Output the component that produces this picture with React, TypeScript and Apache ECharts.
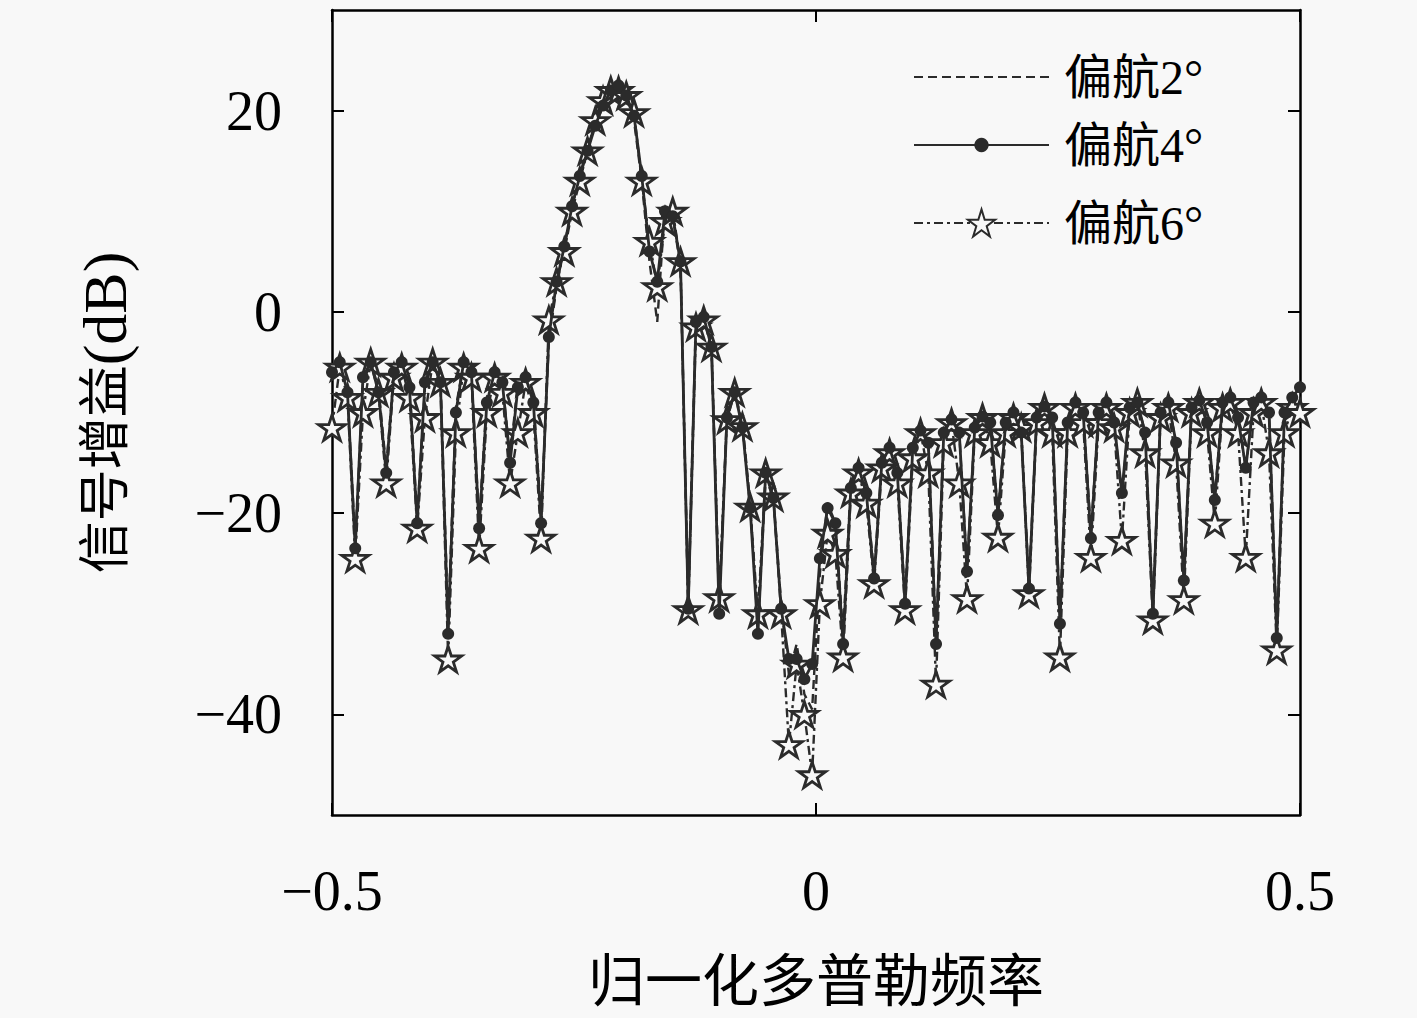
import React, { useEffect, useRef } from "react";
import * as echarts from "echarts";

const FREQ = [
  -0.5, -0.492, -0.484, -0.476, -0.468, -0.46, -0.452, -0.444, -0.436, -0.428,
  -0.42, -0.412, -0.404, -0.396, -0.388, -0.38, -0.372, -0.364, -0.356, -0.348,
  -0.34, -0.332, -0.324, -0.316, -0.308, -0.3, -0.292, -0.284, -0.276, -0.268,
  -0.26, -0.252, -0.244, -0.236, -0.228, -0.22, -0.212, -0.204, -0.196, -0.188,
  -0.18, -0.172, -0.164, -0.156, -0.148, -0.14, -0.132, -0.124, -0.116, -0.108,
  -0.1, -0.092, -0.084, -0.076, -0.068, -0.06, -0.052, -0.044, -0.036, -0.028,
  -0.02, -0.012, -0.004, 0.004, 0.012, 0.02, 0.028, 0.036, 0.044, 0.052,
  0.06, 0.068, 0.076, 0.084, 0.092, 0.1, 0.108, 0.116, 0.124, 0.132,
  0.14, 0.148, 0.156, 0.164, 0.172, 0.18, 0.188, 0.196, 0.204, 0.212,
  0.22, 0.228, 0.236, 0.244, 0.252, 0.26, 0.268, 0.276, 0.284, 0.292,
  0.3, 0.308, 0.316, 0.324, 0.332, 0.34, 0.348, 0.356, 0.364, 0.372,
  0.38, 0.388, 0.396, 0.404, 0.412, 0.42, 0.428, 0.436, 0.444, 0.452,
  0.46, 0.468, 0.476, 0.484, 0.492, 0.5,
];

const YAW2 = [
  -6.5, -5, -8, -23, -7, -5, -7.5, -15.5, -6, -5,
  -7, -20.5, -7.5, -5, -6.5, -31, -9.5, -5, -6, -21,
  -8.5, -6, -7, -14.5, -7, -6.5, -8.5, -20.5, -3, 2.5,
  6.5, 10.5, 13.5, 16.5, 18.5, 20.5, 22, 22.5, 21.5, 19,
  13, 5, -1, 10.5, 9.5, 4.5, -29, -0.5, -0.5, -3,
  -29.5, -10, -8, -11, -19, -31.5, -16.5, -18.5, -29, -36,
  -33, -38, -39.5, -26, -19, -21, -32, -17, -15.5, -18,
  -26, -15, -13.5, -16, -28.5, -13.5, -11.5, -13, -32.5, -12,
  -10.5, -12, -25.5, -11.5, -10.4, -11, -20, -11, -10, -12,
  -27, -10.5, -9.4, -10.5, -30.5, -11, -9, -10, -22, -10,
  -9, -11, -18.5, -9.5, -9, -12, -29.5, -10, -9, -13,
  -26.5, -9.5, -8.8, -11, -18.5, -9, -8.5, -10.5, -15.5, -9,
  -8.5, -10, -32, -10, -8.5, -7.5,
];

const YAW4 = [
  -6, -5, -8, -23.5, -6.5, -5, -8, -16, -6, -5,
  -7.5, -21, -7, -5, -7, -32, -10, -5, -6, -21.5,
  -9, -6, -7, -15, -7.5, -6.5, -9, -21, -2.5, 3,
  6.5, 10.5, 13.5, 16, 18.5, 20.5, 22, 22.5, 21.5, 19.5,
  13.5, 6, 3, 10, 9.5, 5, -29.5, -1, -0.5, -3.5,
  -30, -10.5, -8, -11.5, -19.5, -32, -16, -18.5, -29.5, -34.5,
  -34.5, -36.5, -35, -24.5, -19.5, -21, -33, -17.5, -15.5, -18,
  -26.5, -15, -13.5, -16, -29, -13.5, -11.8, -13, -33, -12,
  -10.7, -12, -25.8, -11.5, -10.4, -11, -20.2, -11, -10, -12,
  -27.5, -10.5, -9.4, -10.5, -31, -11, -9, -10, -22.5, -10,
  -9, -11, -18, -9.5, -9, -12, -30, -10, -9, -13,
  -26.7, -9.5, -8.8, -11, -18.7, -9, -8.5, -10.5, -15.5, -9,
  -8.5, -10, -32.4, -10, -8.5, -7.5,
];

const YAW6 = [
  -11.5, -5.5, -8.5, -24.5, -10, -5, -8, -17, -6.5, -5.5,
  -8.5, -21.5, -10.5, -5, -7, -34.5, -12, -5.5, -6.5, -23.5,
  -10, -6.5, -8, -17, -12, -7, -10, -22.5, -0.8, 3,
  6, 10, 13, 16, 19, 21, 22, 22, 21.5, 19.8,
  13, 7, 2.5, 9, 10, 5, -29.6, -1.5, -0.8, -3.5,
  -28.4, -10.7, -8, -11.4, -19.4, -30, -16, -18.4, -30, -43,
  -35, -40, -46, -29, -22, -24, -34.3, -18, -16, -19,
  -27, -15.5, -14, -17, -29.6, -14.5, -12, -16, -37, -13,
  -11, -17, -28.5, -12, -10.5, -13, -22.4, -12, -10.5, -11.5,
  -28, -11, -9.5, -12, -34.3, -12, -9.5, -11, -24.4, -11,
  -9.5, -11.5, -22.7, -10, -9, -14, -30.6, -10.5, -9.5, -15,
  -28.6, -10, -9, -12, -21, -9.5, -9, -12, -24.4, -10,
  -9, -14, -33.6, -12, -9.5, -10,
];

const SERIES_NAMES = ["偏航2°", "偏航4°", "偏航6°"];
const Y_TICKS = [-40, -20, 0, 20];
const X_NAME = "归一化多普勒频率";
const Y_NAME_CJK = "信号增益";
const Y_NAME_UNIT = "(dB)";

const STAR =
  "path://M50,2 L61.2,36.4 L97.6,36.4 L68.2,57.6 L79.4,92 L50,70.8 L20.6,92 L31.8,57.6 L2.4,36.4 L38.8,36.4 Z";

const INK = "#2b2b2b";
const BG = "#f8f8f8";
const NUM_FONT = "'Liberation Serif', 'Noto Sans CJK SC', serif";
const CJK_FONT = "'Liberation Serif', 'Noto Sans CJK SC', serif";

const fmt = (v: number) => (v < 0 ? "\u2212" + Math.abs(v) : String(v));

export default function App() {
  const ref = useRef<HTMLDivElement>(null);
  useEffect(() => {
    if (!ref.current) return;
    const chart = echarts.init(ref.current, null, { renderer: "svg" });
    const pairs = (ys: number[]) => FREQ.map((f, i) => [f, ys[i]]);
    const axisCommon = {
      axisLine: { show: true, onZero: false, lineStyle: { color: "#000", width: 2.5 } },
      splitLine: { show: false },
    };
    const legendText = {
      fontSize: 48,
      lineHeight: 48,
      fontFamily: CJK_FONT,
      color: "#000",
      padding: [0, 0, 0, 10],
    };
    chart.setOption({
      animation: false,
      backgroundColor: BG,
      grid: { left: 332, right: 117, top: 10, bottom: 203, containLabel: false },
      legend: [
        {
          data: [{ name: SERIES_NAMES[0], itemStyle: { opacity: 0 } }],
          left: 908,
          top: 48,
          itemWidth: 135,
          itemHeight: 20,
          textStyle: legendText,
        },
        {
          data: [SERIES_NAMES[1]],
          left: 908,
          top: 116,
          itemWidth: 135,
          itemHeight: 18,
          textStyle: legendText,
        },
        {
          data: [SERIES_NAMES[2]],
          left: 908,
          top: 194,
          itemWidth: 135,
          itemHeight: 34,
          textStyle: legendText,
        },
      ],
      xAxis: [
        {
          type: "value",
          min: -0.5,
          max: 0.5,
          interval: 0.5,
          position: "bottom",
          ...axisCommon,
          axisTick: { show: true, inside: true, length: 12, lineStyle: { color: "#000", width: 2 } },
          axisLabel: { fontSize: 56, fontFamily: NUM_FONT, color: "#000", margin: 48, formatter: fmt },
          name: X_NAME,
          nameLocation: "middle",
          nameGap: 138,
          nameTextStyle: { fontSize: 57, fontFamily: CJK_FONT, color: "#000" },
        },
        {
          type: "value",
          min: -0.5,
          max: 0.5,
          interval: 0.5,
          position: "top",
          ...axisCommon,
          axisTick: { show: true, inside: true, length: 12, lineStyle: { color: "#000", width: 2 } },
          axisLabel: { show: false },
        },
      ],
      yAxis: [
        {
          type: "value",
          min: -50,
          max: 30,
          position: "left",
          ...axisCommon,
          axisTick: { show: true, inside: true, length: 12, customValues: Y_TICKS, lineStyle: { color: "#000", width: 2 } },
          axisLabel: { fontSize: 56, fontFamily: NUM_FONT, color: "#000", margin: 50, customValues: Y_TICKS, formatter: fmt },
          name: "{a|" + Y_NAME_CJK + "}{b|" + Y_NAME_UNIT + "}",
          nameLocation: "middle",
          nameGap: 196,
          nameTextStyle: {
            fontSize: 52,
            fontFamily: CJK_FONT,
            color: "#000",
            rich: {
              a: { fontSize: 52, fontFamily: CJK_FONT, color: "#000" },
              b: { fontSize: 62, fontFamily: NUM_FONT, color: "#000" },
            },
          },
        },
        {
          type: "value",
          min: -50,
          max: 30,
          position: "right",
          ...axisCommon,
          axisTick: { show: true, inside: true, length: 12, customValues: Y_TICKS, lineStyle: { color: "#000", width: 2 } },
          axisLabel: { show: false },
        },
      ],
      series: [
        {
          name: SERIES_NAMES[0],
          type: "line",
          data: pairs(YAW2),
          symbol: "none",
          lineStyle: { color: INK, width: 2.4, type: [9, 5] },
          itemStyle: { color: INK },
          z: 2,
        },
        {
          name: SERIES_NAMES[2],
          type: "line",
          data: pairs(YAW6),
          symbol: STAR,
          symbolSize: 27,
          symbolKeepAspect: true,
          lineStyle: { color: INK, width: 2.4, type: [9, 4, 3, 4] },
          itemStyle: { color: BG, borderColor: INK, borderWidth: 2.8 },
          z: 3,
        },
        {
          name: SERIES_NAMES[1],
          type: "line",
          data: pairs(YAW4),
          symbol: "circle",
          symbolSize: 12,
          lineStyle: { color: INK, width: 2.8, type: "solid" },
          itemStyle: { color: INK },
          z: 4,
        },
      ],
    });
    return () => chart.dispose();
  }, []);
  return (
    <div
      ref={ref}
      style={{ position: "fixed", left: 0, top: 0, width: 1417, height: 1018 }}
    />
  );
}
